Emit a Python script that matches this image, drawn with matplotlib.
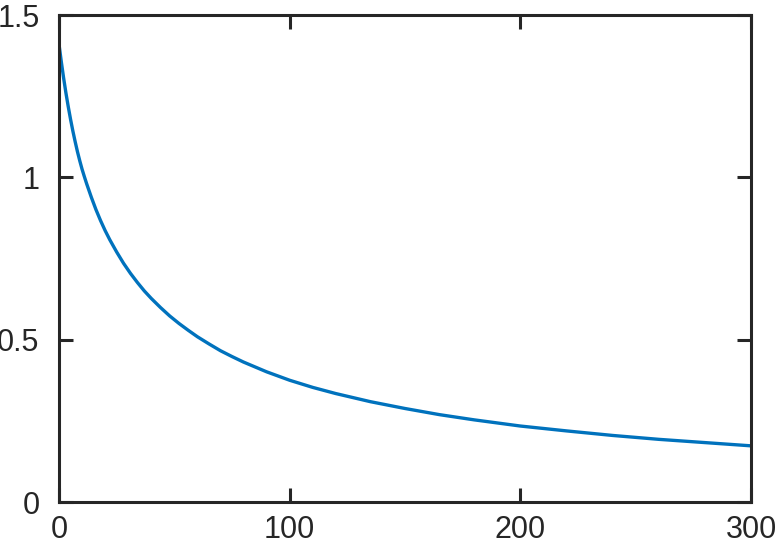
import matplotlib
matplotlib.use('Agg')
import matplotlib.pyplot as plt

# values
x_vals = [0, 1, 2, 3, 4, 5, 6, 7, 8, 9, 10, 11, 12, 14, 16, 18, 20, 22, 25,
          28, 31, 34, 37, 40, 44, 48, 52, 56, 60, 65, 70, 75, 80, 90, 100,
          110, 120, 135, 150, 165, 180, 200, 220, 240, 260, 280, 300]
y_vals = [1.410, 1.356, 1.306, 1.260, 1.218, 1.179, 1.143, 1.110, 1.079,
          1.051, 1.025, 1.002, 0.980, 0.939, 0.901, 0.867, 0.836, 0.808,
          0.770, 0.735, 0.704, 0.676, 0.650, 0.627, 0.599, 0.573, 0.550,
          0.529, 0.509, 0.487, 0.466, 0.448, 0.431, 0.401, 0.375, 0.353,
          0.334, 0.309, 0.288, 0.269, 0.253, 0.234, 0.219, 0.205, 0.193,
          0.183, 0.173]

x_ticks = [0, 100, 200, 300]
y_ticks = [0, 0.5, 1, 1.5]
y_tick_labels = ['0', '0.5', '1', '1.5']

plt.rcParams['font.family'] = ['Liberation Sans', 'DejaVu Sans']

fig = plt.figure(figsize=(7.75, 5.47), dpi=100)
ax = fig.add_axes([59 / 775, 1 - 502 / 547, 692 / 775, 487 / 547])

ax.plot(x_vals, y_vals, color='#0072BD', linewidth=2.4,
        solid_joinstyle='round', solid_capstyle='butt')

ax.set_xlim(0, 300)
ax.set_ylim(0, 1.5)
ax.set_xticks(x_ticks)
ax.set_xticklabels([str(t) for t in x_ticks])
ax.set_yticks(y_ticks)
ax.set_yticklabels(y_tick_labels)

for side in ax.spines.values():
    side.set_linewidth(2.2)
    side.set_color('#262626')

ax.tick_params(direction='in', length=10, width=2.2, color='#262626',
               labelsize=22, labelcolor='#262626',
               top=True, right=True)
ax.tick_params(axis='x', pad=9)
ax.tick_params(axis='y', pad=14)

fig.savefig('out.png', dpi=100)
